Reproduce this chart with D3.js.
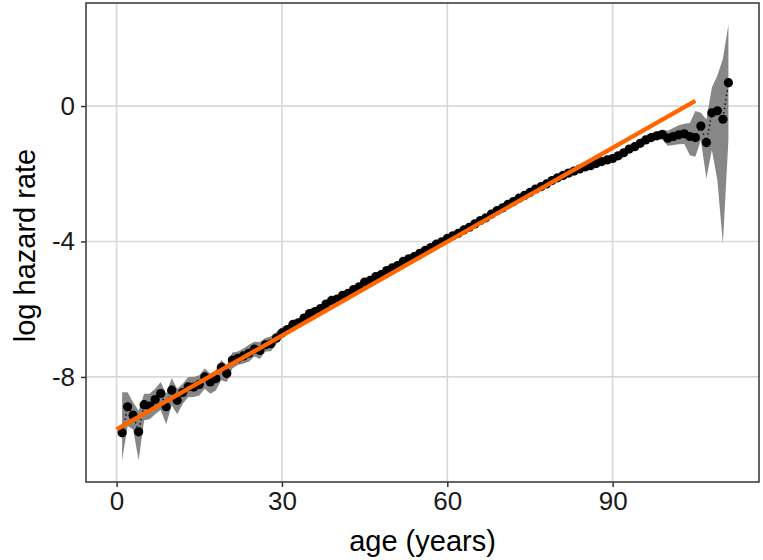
<!DOCTYPE html>
<html>
<head>
<meta charset="utf-8">
<script src="https://cdn.jsdelivr.net/npm/d3@7"></script>
<style>
  html, body { margin: 0; padding: 0; background: #fff; }
  svg { display: block; }
  text { font-family: "Liberation Sans", Arial, Helvetica, sans-serif; }
</style>
</head>
<body>
<svg id="chart" width="763" height="560"></svg>
<script>
// ---- data ----
const ages = d3.range(1, 112); // 1..111
const logHazard = [
  -9.65, -8.88, -9.13, -9.62, -8.82, -8.86, -8.67, -8.49, -8.88, -8.39,
  -8.69, -8.46, -8.29, -8.30, -8.22, -8.00, -8.15, -8.05, -7.72, -7.90,
  -7.50, -7.45, -7.38, -7.30, -7.18, -7.22, -7.05, -7.02, -6.85, -6.70,
  -6.60, -6.45, -6.40, -6.26, -6.13, -6.07, -5.98, -5.85, -5.74, -5.70,
  -5.59, -5.53, -5.42, -5.34, -5.20, -5.15, -5.04, -4.98, -4.86, -4.78,
  -4.71, -4.59, -4.51, -4.45, -4.35, -4.26, -4.18, -4.08, -4.01, -3.91,
  -3.83, -3.76, -3.66, -3.58, -3.48, -3.38, -3.30, -3.19, -3.09, -3.01,
  -2.90, -2.82, -2.72, -2.64, -2.55, -2.45, -2.38, -2.30, -2.20, -2.12,
  -2.05, -1.98, -1.92, -1.86, -1.80, -1.76, -1.70, -1.64, -1.59, -1.55,
  -1.47, -1.38, -1.27, -1.20, -1.10, -1.00, -0.93, -0.88, -0.84, -0.95,
  -0.90, -0.85, -0.82, -0.90, -0.93, -0.59, -1.08, -0.20, -0.14, -0.39,
   0.69
];
const lower = [
  -10.46, -9.45, -9.55, -10.46, -9.28, -9.25, -9.10, -8.98, -9.40, -8.84,
  -9.10, -8.79, -8.60, -8.59, -8.55, -8.35, -8.50, -8.40, -8.10, -8.15,
  -7.75, -7.65, -7.60, -7.55, -7.40, -7.47, -7.25, -7.24, -7.03, -6.87,
  -6.73, -6.58, -6.52, -6.38, -6.24, -6.17, -6.08, -5.94, -5.83, -5.78,
  -5.67, -5.60, -5.49, -5.41, -5.26, -5.21, -5.10, -5.03, -4.91, -4.83,
  -4.76, -4.64, -4.56, -4.50, -4.40, -4.31, -4.23, -4.13, -4.06, -3.96,
  -3.88, -3.81, -3.71, -3.63, -3.53, -3.43, -3.35, -3.24, -3.14, -3.06,
  -2.95, -2.87, -2.77, -2.69, -2.60, -2.50, -2.43, -2.35, -2.25, -2.17,
  -2.10, -2.03, -1.97, -1.91, -1.85, -1.81, -1.75, -1.69, -1.64, -1.61,
  -1.54, -1.45, -1.34, -1.27, -1.18, -1.08, -1.03, -1.00, -0.99, -1.17,
  -1.15, -1.13, -1.12, -1.45, -1.50, -1.00, -2.14, -1.30, -2.20, -4.06,
  -1.00
];
const upper = [
  -8.45, -8.45, -8.75, -9.00, -8.50, -8.50, -8.35, -8.15, -8.50, -8.04,
  -8.35, -8.20, -8.00, -8.00, -7.95, -7.75, -7.90, -7.80, -7.50, -7.65,
  -7.28, -7.25, -7.16, -7.05, -6.96, -6.97, -6.85, -6.80, -6.67, -6.53,
  -6.47, -6.32, -6.28, -6.14, -6.02, -5.97, -5.88, -5.76, -5.65, -5.62,
  -5.51, -5.46, -5.35, -5.27, -5.14, -5.09, -4.98, -4.93, -4.81, -4.73,
  -4.66, -4.54, -4.46, -4.40, -4.30, -4.21, -4.13, -4.03, -3.96, -3.86,
  -3.78, -3.71, -3.61, -3.53, -3.43, -3.33, -3.25, -3.14, -3.04, -2.96,
  -2.85, -2.77, -2.67, -2.59, -2.50, -2.40, -2.33, -2.25, -2.15, -2.07,
  -2.00, -1.93, -1.87, -1.81, -1.75, -1.71, -1.65, -1.59, -1.54, -1.49,
  -1.40, -1.31, -1.20, -1.13, -1.02, -0.92, -0.83, -0.76, -0.69, -0.73,
  -0.65, -0.57, -0.52, -0.50, -0.15, -0.20, -0.40,  0.55,  0.90,  1.40,
   2.40
];
const fitAges = [0, 105];
const fitValues = [-9.55, 0.15];
const xTicks = [0, 30, 60, 90];
const yTicks = [0, -4, -8];
const xTitle = "age (years)";
const yTitle = "log hazard rate";

// ---- layout ----
const W = 763, H = 560;
const panel = { left: 86, right: 759, top: 3, bottom: 482 };

const svg = d3.select("#chart");
svg.append("rect").attr("width", W).attr("height", H).attr("fill", "#fff");

const pts = ages.map((a, i) => ({ age: a, v: logHazard[i], lo: lower[i], hi: upper[i] }));
const fit = fitAges.map((a, i) => ({ age: a, v: fitValues[i] }));

function expand(ext, f) { const s = ext[1] - ext[0]; return [ext[0] - s * f, ext[1] + s * f]; }
const xExt = d3.extent([...ages, ...fitAges]);
const yExt = [d3.min([...lower, ...fitValues]), d3.max([...upper, ...fitValues])];

const x = d3.scaleLinear().domain(expand(xExt, 0.05)).range([panel.left, panel.right]);
const y = d3.scaleLinear().domain(expand(yExt, 0.05)).range([panel.bottom, panel.top]);

// clip
svg.append("clipPath").attr("id", "clip").append("rect")
  .attr("x", panel.left).attr("y", panel.top)
  .attr("width", panel.right - panel.left).attr("height", panel.bottom - panel.top);

// grid
const grid = svg.append("g").attr("clip-path", "url(#clip)");
grid.selectAll("line.gx").data(xTicks).join("line")
  .attr("x1", d => x(d)).attr("x2", d => x(d))
  .attr("y1", panel.top).attr("y2", panel.bottom)
  .attr("stroke", "#d9d9d9").attr("stroke-width", 1.7);
grid.selectAll("line.gy").data(yTicks).join("line")
  .attr("y1", d => y(d)).attr("y2", d => y(d))
  .attr("x1", panel.left).attr("x2", panel.right)
  .attr("stroke", "#d9d9d9").attr("stroke-width", 1.7);

const plot = svg.append("g").attr("clip-path", "url(#clip)");

// ribbon
plot.append("path").datum(pts)
  .attr("d", d3.area().x(d => x(d.age)).y0(d => y(d.lo)).y1(d => y(d.hi)))
  .attr("fill", "#878787");

// dotted line connecting points
plot.append("path").datum(pts)
  .attr("d", d3.line().x(d => x(d.age)).y(d => y(d.v)))
  .attr("fill", "none").attr("stroke", "#000").attr("stroke-width", 1.4)
  .attr("stroke-dasharray", "1.4,3");

// points
plot.selectAll("circle").data(pts).join("circle")
  .attr("cx", d => x(d.age)).attr("cy", d => y(d.v)).attr("r", 4.6)
  .attr("fill", "#000");

// fitted line
plot.append("path").datum(fit)
  .attr("d", d3.line().x(d => x(d.age)).y(d => y(d.v)))
  .attr("fill", "none").attr("stroke", "#ff6600").attr("stroke-width", 4.3);

// panel border
svg.append("rect")
  .attr("x", panel.left).attr("y", panel.top)
  .attr("width", panel.right - panel.left).attr("height", panel.bottom - panel.top)
  .attr("fill", "none").attr("stroke", "#333").attr("stroke-width", 1.5);

// axes
const xAxis = svg.append("g").attr("transform", `translate(0,${panel.bottom})`)
  .call(d3.axisBottom(x).tickValues(xTicks).tickSize(5).tickPadding(5).tickFormat(d3.format("d")));
const yAxis = svg.append("g").attr("transform", `translate(${panel.left},0)`)
  .call(d3.axisLeft(y).tickValues(yTicks).tickSize(5).tickPadding(6)
    .tickFormat(d => d < 0 ? "-" + Math.abs(d) : String(d)));
[xAxis, yAxis].forEach(g => {
  g.select(".domain").remove();
  g.selectAll(".tick line").attr("stroke", "#333").attr("stroke-width", 1.5);
  g.selectAll(".tick text").attr("fill", "#1a1a1a").style("font-size", "26px")
    .style("font-family", '"Liberation Sans", Arial, sans-serif');
});
xAxis.selectAll(".tick text").attr("dy", "0.71em");

// titles
svg.append("text").attr("x", (panel.left + panel.right) / 2).attr("y", 551)
  .attr("text-anchor", "middle").style("font-size", "29px").attr("fill", "#000")
  .text(xTitle);
svg.append("text")
  .attr("transform", `translate(35,${(panel.top + panel.bottom) / 2 + 3}) rotate(-90)`)
  .attr("text-anchor", "middle").style("font-size", "29px").attr("fill", "#000")
  .text(yTitle);
</script>
</body>
</html>
